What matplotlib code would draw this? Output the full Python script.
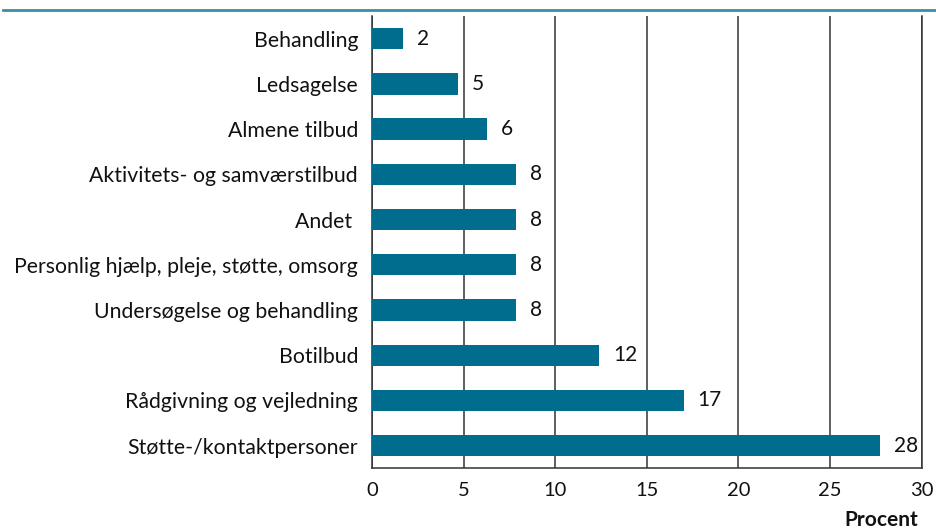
import matplotlib
matplotlib.use("Agg")
import matplotlib.pyplot as plt
from matplotlib.lines import Line2D

plt.rcParams["font.family"] = ["Lato", "DejaVu Sans"]

categories = [
    "Behandling",
    "Ledsagelse",
    "Almene tilbud",
    "Aktivitets- og samværstilbud",
    "Andet ",
    "Personlig hjælp, pleje, støtte, omsorg",
    "Undersøgelse og behandling",
    "Botilbud",
    "Rådgivning og vejledning",
    "Støtte-/kontaktpersoner",
]
values = [1.7, 4.7, 6.3, 7.85, 7.85, 7.85, 7.85, 12.4, 17.0, 27.75]
value_labels = ["2", "5", "6", "8", "8", "8", "8", "12", "17", "28"]
x_ticks = [0, 5, 10, 15, 20, 25, 30]

bar_color = "#006d8f"
line_color = "#333333"
text_color = "#111111"

fig = plt.figure(figsize=(9.37, 5.29), dpi=100)
ax = fig.add_axes([0.397, 0.1147, 0.5867, 0.855])

ypos = list(range(len(categories)))
ax.barh(ypos, values, height=0.47, color=bar_color, zorder=3)
for y, v, lab in zip(ypos, values, value_labels):
    ax.text(v + 0.75, y, lab, va="center", ha="left", fontsize=15, color=text_color)

ax.set_xlim(0, 30)
ax.set_ylim(len(categories) - 0.5, -0.5)
ax.set_yticks(ypos)
ax.set_yticklabels(categories, fontsize=15.3, color=text_color)
ax.set_xticks(x_ticks)
ax.set_xticklabels([str(t) for t in x_ticks], fontsize=14.5, color=text_color)
ax.tick_params(axis="y", length=0, pad=10)
ax.tick_params(axis="x", length=0, pad=10)

ax.grid(axis="x", color=line_color, linewidth=1.1, zorder=0)
ax.set_axisbelow(True)
for side in ["left", "bottom", "right"]:
    ax.spines[side].set_color(line_color)
    ax.spines[side].set_linewidth(1.1)
ax.spines["top"].set_visible(False)

fig.text(0.98, 0.006, "Procent", ha="right", va="baseline", fontsize=15,
         fontweight="bold", color=text_color)

# teal rule under the (cropped) title
fig.add_artist(Line2D([0.003, 1.0], [0.981, 0.981], color="#3a8ea5", linewidth=2,
                      transform=fig.transFigure))

fig.savefig("out.png", dpi=100)
